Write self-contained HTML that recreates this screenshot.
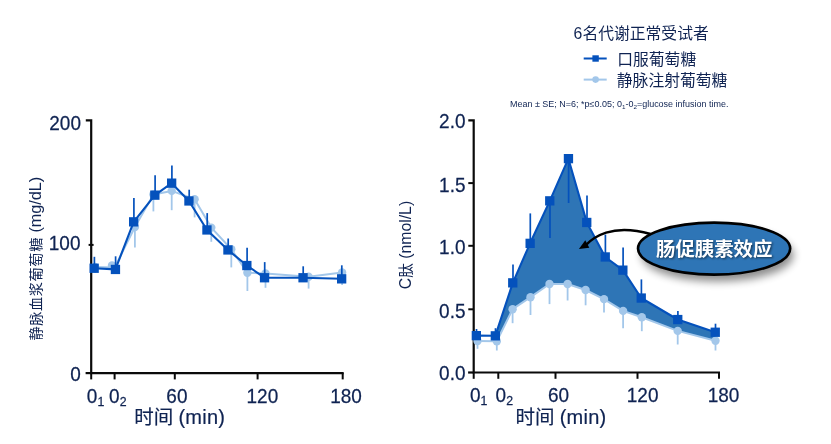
<!DOCTYPE html>
<html lang="zh"><head><meta charset="utf-8"><title>chart</title>
<style>html,body{margin:0;padding:0;background:#fff}body{width:831px;height:444px;overflow:hidden}svg{display:block}text{font-family:"Liberation Sans", "Noto Sans CJK SC", sans-serif;fill:#0F2352}</style></head><body>
<svg width="831" height="444" viewBox="0 0 831 444">
<defs><filter id="sh" x="-20%" y="-30%" width="140%" height="180%"><feGaussianBlur stdDeviation="4.2"/></filter><filter id="ts" x="-10%" y="-30%" width="120%" height="160%"><feGaussianBlur stdDeviation="1"/></filter></defs>
<rect width="831" height="444" fill="#fff"/>
<path d="M85.8 120.4H91.2V373.1H343.7" fill="none" stroke="#0a0a0a" stroke-width="2.2" stroke-linejoin="miter"/>
<line x1="85.6" y1="373.1" x2="91.2" y2="373.1" stroke="#0a0a0a" stroke-width="2.2"/>
<line x1="88.6" y1="244.9" x2="93.6" y2="244.9" stroke="#0a0a0a" stroke-width="2"/>
<line x1="91.2" y1="373.1" x2="91.2" y2="379.4" stroke="#0a0a0a" stroke-width="2"/>
<line x1="114.6" y1="373.1" x2="114.6" y2="379.4" stroke="#0a0a0a" stroke-width="2"/>
<line x1="174.8" y1="373.1" x2="174.8" y2="379.4" stroke="#0a0a0a" stroke-width="2"/>
<line x1="257.6" y1="373.1" x2="257.6" y2="379.4" stroke="#0a0a0a" stroke-width="2"/>
<line x1="342.7" y1="373.1" x2="342.7" y2="379.4" stroke="#0a0a0a" stroke-width="2"/>
<line x1="95.0" y1="267.0" x2="95.0" y2="273.0" stroke="#A3C7EA" stroke-width="1.8"/>
<line x1="112.0" y1="265.5" x2="112.0" y2="274.0" stroke="#A3C7EA" stroke-width="1.8"/>
<line x1="134.9" y1="227.0" x2="134.9" y2="247.5" stroke="#A3C7EA" stroke-width="1.8"/>
<line x1="153.4" y1="194.5" x2="153.4" y2="211.4" stroke="#A3C7EA" stroke-width="1.8"/>
<line x1="171.7" y1="190.9" x2="171.7" y2="210.2" stroke="#A3C7EA" stroke-width="1.8"/>
<line x1="194.6" y1="199.3" x2="194.6" y2="217.4" stroke="#A3C7EA" stroke-width="1.8"/>
<line x1="211.3" y1="227.6" x2="211.3" y2="241.8" stroke="#A3C7EA" stroke-width="1.8"/>
<line x1="231.3" y1="249.3" x2="231.3" y2="267.4" stroke="#A3C7EA" stroke-width="1.8"/>
<line x1="247.4" y1="272.7" x2="247.4" y2="291.0" stroke="#A3C7EA" stroke-width="1.8"/>
<line x1="265.5" y1="273.4" x2="265.5" y2="287.8" stroke="#A3C7EA" stroke-width="1.8"/>
<line x1="308.6" y1="276.8" x2="308.6" y2="288.6" stroke="#A3C7EA" stroke-width="1.8"/>
<line x1="342.1" y1="272.4" x2="342.1" y2="285.0" stroke="#A3C7EA" stroke-width="1.8"/>
<polyline points="95.0,267.0 114.6,267.6 134.9,227.0 153.4,194.5 171.7,190.9 194.6,199.3 211.3,227.6 231.3,249.3 247.4,272.7 265.5,273.4 308.6,276.8 342.1,272.4" fill="none" stroke="#A3C7EA" stroke-width="2" stroke-linejoin="round"/>
<circle cx="95.0" cy="267.0" r="4.2" fill="#A3C7EA"/>
<circle cx="112.0" cy="265.5" r="4.2" fill="#A3C7EA"/>
<circle cx="134.9" cy="227.0" r="4.2" fill="#A3C7EA"/>
<circle cx="153.4" cy="194.5" r="4.2" fill="#A3C7EA"/>
<circle cx="171.7" cy="190.9" r="4.2" fill="#A3C7EA"/>
<circle cx="194.6" cy="199.3" r="4.2" fill="#A3C7EA"/>
<circle cx="211.3" cy="227.6" r="4.2" fill="#A3C7EA"/>
<circle cx="231.3" cy="249.3" r="4.2" fill="#A3C7EA"/>
<circle cx="247.4" cy="272.7" r="4.2" fill="#A3C7EA"/>
<circle cx="265.5" cy="273.4" r="4.2" fill="#A3C7EA"/>
<circle cx="308.6" cy="276.8" r="4.2" fill="#A3C7EA"/>
<circle cx="342.1" cy="272.4" r="4.2" fill="#A3C7EA"/>
<polyline points="94.2,268.2 115.4,269.4 133.7,221.9 154.9,195.2 171.7,183.2 189.0,201.0 207.0,230.0 228.0,250.0 246.9,265.5 264.5,277.7 303.0,277.7 341.6,278.8" fill="none" stroke="#0451BC" stroke-width="2.1" stroke-linejoin="round"/>
<line x1="94.4" y1="268.2" x2="94.4" y2="256.8" stroke="#0451BC" stroke-width="1.7"/>
<line x1="115.6" y1="269.4" x2="115.6" y2="256.3" stroke="#0451BC" stroke-width="1.7"/>
<line x1="133.9" y1="221.9" x2="133.9" y2="198.1" stroke="#0451BC" stroke-width="1.7"/>
<line x1="155.1" y1="195.2" x2="155.1" y2="175.3" stroke="#0451BC" stroke-width="1.7"/>
<line x1="171.9" y1="183.2" x2="171.9" y2="165.6" stroke="#0451BC" stroke-width="1.7"/>
<line x1="189.2" y1="201.0" x2="189.2" y2="189.7" stroke="#0451BC" stroke-width="1.7"/>
<line x1="207.2" y1="230.0" x2="207.2" y2="213.1" stroke="#0451BC" stroke-width="1.7"/>
<line x1="228.2" y1="250.0" x2="228.2" y2="238.5" stroke="#0451BC" stroke-width="1.7"/>
<line x1="247.1" y1="265.5" x2="247.1" y2="247.7" stroke="#0451BC" stroke-width="1.7"/>
<line x1="264.7" y1="277.7" x2="264.7" y2="262.1" stroke="#0451BC" stroke-width="1.7"/>
<line x1="303.2" y1="277.7" x2="303.2" y2="266.3" stroke="#0451BC" stroke-width="1.7"/>
<line x1="341.8" y1="278.8" x2="341.8" y2="265.3" stroke="#0451BC" stroke-width="1.7"/>
<rect x="89.5" y="263.6" width="9.3" height="9.3" fill="#0451BC"/>
<rect x="110.8" y="264.8" width="9.3" height="9.3" fill="#0451BC"/>
<rect x="129.0" y="217.2" width="9.3" height="9.3" fill="#0451BC"/>
<rect x="150.2" y="190.5" width="9.3" height="9.3" fill="#0451BC"/>
<rect x="167.0" y="178.5" width="9.3" height="9.3" fill="#0451BC"/>
<rect x="184.3" y="196.3" width="9.3" height="9.3" fill="#0451BC"/>
<rect x="202.3" y="225.3" width="9.3" height="9.3" fill="#0451BC"/>
<rect x="223.3" y="245.3" width="9.3" height="9.3" fill="#0451BC"/>
<rect x="242.2" y="260.9" width="9.3" height="9.3" fill="#0451BC"/>
<rect x="259.9" y="273.1" width="9.3" height="9.3" fill="#0451BC"/>
<rect x="298.4" y="273.1" width="9.3" height="9.3" fill="#0451BC"/>
<rect x="337.0" y="274.2" width="9.3" height="9.3" fill="#0451BC"/>
<text transform="translate(81 130) scale(0.95 1)" font-size="20" text-anchor="end" stroke="#0F2352" stroke-width=".25" >200</text>
<text transform="translate(80.5 250.2) scale(0.95 1)" font-size="20" text-anchor="end" stroke="#0F2352" stroke-width=".25" >100</text>
<text transform="translate(80.8 381) scale(0.95 1)" font-size="20" text-anchor="end" stroke="#0F2352" stroke-width=".25" >0</text>
<text transform="translate(86.8 402.7) scale(0.95 1)" font-size="20" text-anchor="start" stroke="#0F2352" stroke-width=".25" >0<tspan font-size="13" dy="3.6">1</tspan></text>
<text transform="translate(109.1 402.7) scale(0.95 1)" font-size="20" text-anchor="start" stroke="#0F2352" stroke-width=".25" >0<tspan font-size="13" dy="3.6">2</tspan></text>
<text transform="translate(176.9 402.7) scale(0.95 1)" font-size="20" text-anchor="middle" stroke="#0F2352" stroke-width=".25" >60</text>
<text transform="translate(262.4 402.7) scale(0.95 1)" font-size="20" text-anchor="middle" stroke="#0F2352" stroke-width=".25" >120</text>
<text transform="translate(346 402.7) scale(0.95 1)" font-size="20" text-anchor="middle" stroke="#0F2352" stroke-width=".25" >180</text>
<text x="134.3" y="424.0" font-size="19.5" text-anchor="start" stroke="#0F2352" stroke-width=".2">时间<tspan font-size="20" letter-spacing=".25" dx="-.7"> (min)</tspan></text>
<text transform="translate(40.8 340.6) rotate(-90)" font-size="14.2"><tspan letter-spacing=".6">静脉血浆葡萄糖</tspan><tspan font-size="16.2"> (mg/dL)</tspan></text>
<path d="M468.3 120.4H473.7V372.5H720.0" fill="none" stroke="#0a0a0a" stroke-width="2.2" stroke-linejoin="miter"/>
<line x1="468.1" y1="372.5" x2="473.7" y2="372.5" stroke="#0a0a0a" stroke-width="2.2"/>
<line x1="468.3" y1="183.1" x2="473.7" y2="183.1" stroke="#0a0a0a" stroke-width="2"/>
<line x1="468.3" y1="245.8" x2="473.7" y2="245.8" stroke="#0a0a0a" stroke-width="2"/>
<line x1="468.3" y1="309.3" x2="473.7" y2="309.3" stroke="#0a0a0a" stroke-width="2"/>
<line x1="473.7" y1="372.5" x2="473.7" y2="378.8" stroke="#0a0a0a" stroke-width="2"/>
<line x1="498.3" y1="372.5" x2="498.3" y2="378.8" stroke="#0a0a0a" stroke-width="2"/>
<line x1="555.5" y1="372.5" x2="555.5" y2="378.8" stroke="#0a0a0a" stroke-width="2"/>
<line x1="637.5" y1="372.5" x2="637.5" y2="378.8" stroke="#0a0a0a" stroke-width="2"/>
<line x1="719.0" y1="372.5" x2="719.0" y2="378.8" stroke="#0a0a0a" stroke-width="2"/>
<line x1="477.5" y1="341.0" x2="477.5" y2="348.8" stroke="#A3C7EA" stroke-width="1.8"/>
<line x1="496.8" y1="341.2" x2="496.8" y2="350.5" stroke="#A3C7EA" stroke-width="1.8"/>
<line x1="512.6" y1="309.2" x2="512.6" y2="323.2" stroke="#A3C7EA" stroke-width="1.8"/>
<line x1="530.5" y1="297.2" x2="530.5" y2="315.0" stroke="#A3C7EA" stroke-width="1.8"/>
<line x1="549.5" y1="284.0" x2="549.5" y2="304.1" stroke="#A3C7EA" stroke-width="1.8"/>
<line x1="567.6" y1="284.0" x2="567.6" y2="300.5" stroke="#A3C7EA" stroke-width="1.8"/>
<line x1="585.6" y1="290.0" x2="585.6" y2="305.3" stroke="#A3C7EA" stroke-width="1.8"/>
<line x1="604.0" y1="299.1" x2="604.0" y2="312.6" stroke="#A3C7EA" stroke-width="1.8"/>
<line x1="623.1" y1="310.9" x2="623.1" y2="328.3" stroke="#A3C7EA" stroke-width="1.8"/>
<line x1="641.8" y1="317.3" x2="641.8" y2="331.2" stroke="#A3C7EA" stroke-width="1.8"/>
<line x1="677.7" y1="330.9" x2="677.7" y2="344.5" stroke="#A3C7EA" stroke-width="1.8"/>
<line x1="715.5" y1="340.8" x2="715.5" y2="350.5" stroke="#A3C7EA" stroke-width="1.8"/>
<polygon points="495.3,335.8 512.8,282.8 530.1,243.3 549.8,200.9 568.4,158.7 586.8,222.4 605.2,257.0 622.9,270.1 641.2,298.0 677.7,319.5 715.3,332.2 715.5,340.8 677.7,330.9 641.8,317.3 623.1,310.9 604.0,299.1 585.6,290.0 567.6,284.0 549.5,284.0 530.5,297.2 512.6,309.2 496.8,341.2" fill="#2E75B6"/>
<polyline points="477.5,341.0 496.8,341.2 512.6,309.2 530.5,297.2 549.5,284.0 567.6,284.0 585.6,290.0 604.0,299.1 623.1,310.9 641.8,317.3 677.7,330.9 715.5,340.8" fill="none" stroke="#A3C7EA" stroke-width="2" stroke-linejoin="round"/>
<circle cx="477.5" cy="341.0" r="4.2" fill="#A3C7EA"/>
<circle cx="496.8" cy="341.2" r="4.2" fill="#A3C7EA"/>
<circle cx="512.6" cy="309.2" r="4.2" fill="#A3C7EA"/>
<circle cx="530.5" cy="297.2" r="4.2" fill="#A3C7EA"/>
<circle cx="549.5" cy="284.0" r="4.2" fill="#A3C7EA"/>
<circle cx="567.6" cy="284.0" r="4.2" fill="#A3C7EA"/>
<circle cx="585.6" cy="290.0" r="4.2" fill="#A3C7EA"/>
<circle cx="604.0" cy="299.1" r="4.2" fill="#A3C7EA"/>
<circle cx="623.1" cy="310.9" r="4.2" fill="#A3C7EA"/>
<circle cx="641.8" cy="317.3" r="4.2" fill="#A3C7EA"/>
<circle cx="677.7" cy="330.9" r="4.2" fill="#A3C7EA"/>
<circle cx="715.5" cy="340.8" r="4.2" fill="#A3C7EA"/>
<polyline points="476.3,335.6 495.3,335.8 512.8,282.8 530.1,243.3 549.8,200.9 568.4,158.7 586.8,222.4 605.2,257.0 622.9,270.1 641.2,298.0 677.7,319.5 715.3,332.2" fill="none" stroke="#0451BC" stroke-width="2.1" stroke-linejoin="round"/>
<line x1="476.5" y1="335.6" x2="476.5" y2="329.0" stroke="#0451BC" stroke-width="1.7"/>
<line x1="495.5" y1="335.8" x2="495.5" y2="328.2" stroke="#0451BC" stroke-width="1.7"/>
<line x1="513.0" y1="282.8" x2="513.0" y2="264.5" stroke="#0451BC" stroke-width="1.7"/>
<line x1="530.3" y1="243.3" x2="530.3" y2="213.4" stroke="#0451BC" stroke-width="1.7"/>
<line x1="550.0" y1="200.9" x2="550.0" y2="238.0" stroke="#0451BC" stroke-width="1.7"/>
<line x1="568.6" y1="158.7" x2="568.6" y2="203.0" stroke="#0451BC" stroke-width="1.7"/>
<line x1="587.0" y1="222.4" x2="587.0" y2="195.4" stroke="#0451BC" stroke-width="1.7"/>
<line x1="605.4" y1="257.0" x2="605.4" y2="234.6" stroke="#0451BC" stroke-width="1.7"/>
<line x1="623.1" y1="270.1" x2="623.1" y2="247.4" stroke="#0451BC" stroke-width="1.7"/>
<line x1="641.4" y1="298.0" x2="641.4" y2="279.4" stroke="#0451BC" stroke-width="1.7"/>
<line x1="677.9" y1="319.5" x2="677.9" y2="310.9" stroke="#0451BC" stroke-width="1.7"/>
<line x1="715.5" y1="332.2" x2="715.5" y2="323.7" stroke="#0451BC" stroke-width="1.7"/>
<rect x="471.7" y="331.0" width="9.3" height="9.3" fill="#0451BC"/>
<rect x="490.7" y="331.2" width="9.3" height="9.3" fill="#0451BC"/>
<rect x="508.1" y="278.2" width="9.3" height="9.3" fill="#0451BC"/>
<rect x="525.5" y="238.7" width="9.3" height="9.3" fill="#0451BC"/>
<rect x="545.1" y="196.2" width="9.3" height="9.3" fill="#0451BC"/>
<rect x="563.8" y="154.0" width="9.3" height="9.3" fill="#0451BC"/>
<rect x="582.1" y="217.8" width="9.3" height="9.3" fill="#0451BC"/>
<rect x="600.6" y="252.3" width="9.3" height="9.3" fill="#0451BC"/>
<rect x="618.2" y="265.5" width="9.3" height="9.3" fill="#0451BC"/>
<rect x="636.6" y="293.4" width="9.3" height="9.3" fill="#0451BC"/>
<rect x="673.1" y="314.9" width="9.3" height="9.3" fill="#0451BC"/>
<rect x="710.6" y="327.6" width="9.3" height="9.3" fill="#0451BC"/>
<text transform="translate(465.5 127.7) scale(0.95 1)" font-size="20" text-anchor="end" stroke="#0F2352" stroke-width=".25" >2.0</text>
<text transform="translate(465.5 191.5) scale(0.95 1)" font-size="20" text-anchor="end" stroke="#0F2352" stroke-width=".25" >1.5</text>
<text transform="translate(465.5 254) scale(0.95 1)" font-size="20" text-anchor="end" stroke="#0F2352" stroke-width=".25" >1.0</text>
<text transform="translate(465.5 317.5) scale(0.95 1)" font-size="20" text-anchor="end" stroke="#0F2352" stroke-width=".25" >0.5</text>
<text transform="translate(465.5 379.7) scale(0.95 1)" font-size="20" text-anchor="end" stroke="#0F2352" stroke-width=".25" >0.0</text>
<text transform="translate(470 401.5) scale(0.95 1)" font-size="20" text-anchor="start" stroke="#0F2352" stroke-width=".25" >0<tspan font-size="13" dy="3.6">1</tspan></text>
<text transform="translate(495.6 401.5) scale(0.95 1)" font-size="20" text-anchor="start" stroke="#0F2352" stroke-width=".25" >0<tspan font-size="13" dy="3.6">2</tspan></text>
<text transform="translate(558.6 401.5) scale(0.95 1)" font-size="20" text-anchor="middle" stroke="#0F2352" stroke-width=".25" >60</text>
<text transform="translate(642.6 401.5) scale(0.95 1)" font-size="20" text-anchor="middle" stroke="#0F2352" stroke-width=".25" >120</text>
<text transform="translate(723.5 401.5) scale(0.95 1)" font-size="20" text-anchor="middle" stroke="#0F2352" stroke-width=".25" >180</text>
<text x="515.6" y="424.3" font-size="19.5" text-anchor="start" stroke="#0F2352" stroke-width=".2">时间<tspan font-size="20" letter-spacing=".25" dx="-.7"> (min)</tspan></text>
<text transform="translate(410.6 289.2) rotate(-90)" font-size="15.8">C<tspan font-size="14.6">肽</tspan> (nmol/L)</text>
<text x="573.6" y="38.6" font-size="15.8" text-anchor="start" >6名代谢正常受试者</text>
<line x1="583.7" y1="58.5" x2="606.7" y2="58.5" stroke="#0451BC" stroke-width="2"/>
<rect x="592.4" y="55.3" width="6.4" height="6.4" fill="#0451BC"/>
<text x="617.2" y="65.2" font-size="15.8" text-anchor="start" >口服葡萄糖</text>
<line x1="583.7" y1="79.6" x2="606.7" y2="79.6" stroke="#A3C7EA" stroke-width="2"/>
<circle cx="595.6" cy="79.6" r="3.3" fill="#A3C7EA"/>
<text x="616.8" y="86.0" font-size="15.8" text-anchor="start" >静脉注射葡萄糖</text>
<text x="510" y="107.3" font-size="8.6" textLength="218.5" lengthAdjust="spacingAndGlyphs">Mean ± SE; N=6; *p≤0.05; 0<tspan font-size="6" dy="1.4">1</tspan><tspan dy="-1.4">-0</tspan><tspan font-size="6" dy="1.4">2</tspan><tspan dy="-1.4">=glucose infusion time.</tspan></text>
<ellipse cx="717.5" cy="255" rx="76" ry="26.5" fill="#000" opacity="0.45" filter="url(#sh)"/>
<ellipse cx="714.1" cy="248.6" rx="76.1" ry="26.0" fill="#2E75B6" stroke="#000" stroke-width="2.6"/>
<text x="715.4" y="257.4" font-size="19.4" font-weight="bold" text-anchor="middle" style="fill:#000;opacity:.55" filter="url(#ts)">肠促胰素效应</text>
<text x="714.2" y="256" font-size="19.4" font-weight="bold" text-anchor="middle" style="fill:#fff">肠促胰素效应</text>
<path d="M650.6 234C637 230.2 620 228.3 606.1 232.6C597 235.6 590.5 240.4 586.6 244.4" fill="none" stroke="#000" stroke-width="2.4"/>
<polygon points="578.9,249.0 585.3,240.3 589.3,247.7" fill="#000"/>
</svg></body></html>
